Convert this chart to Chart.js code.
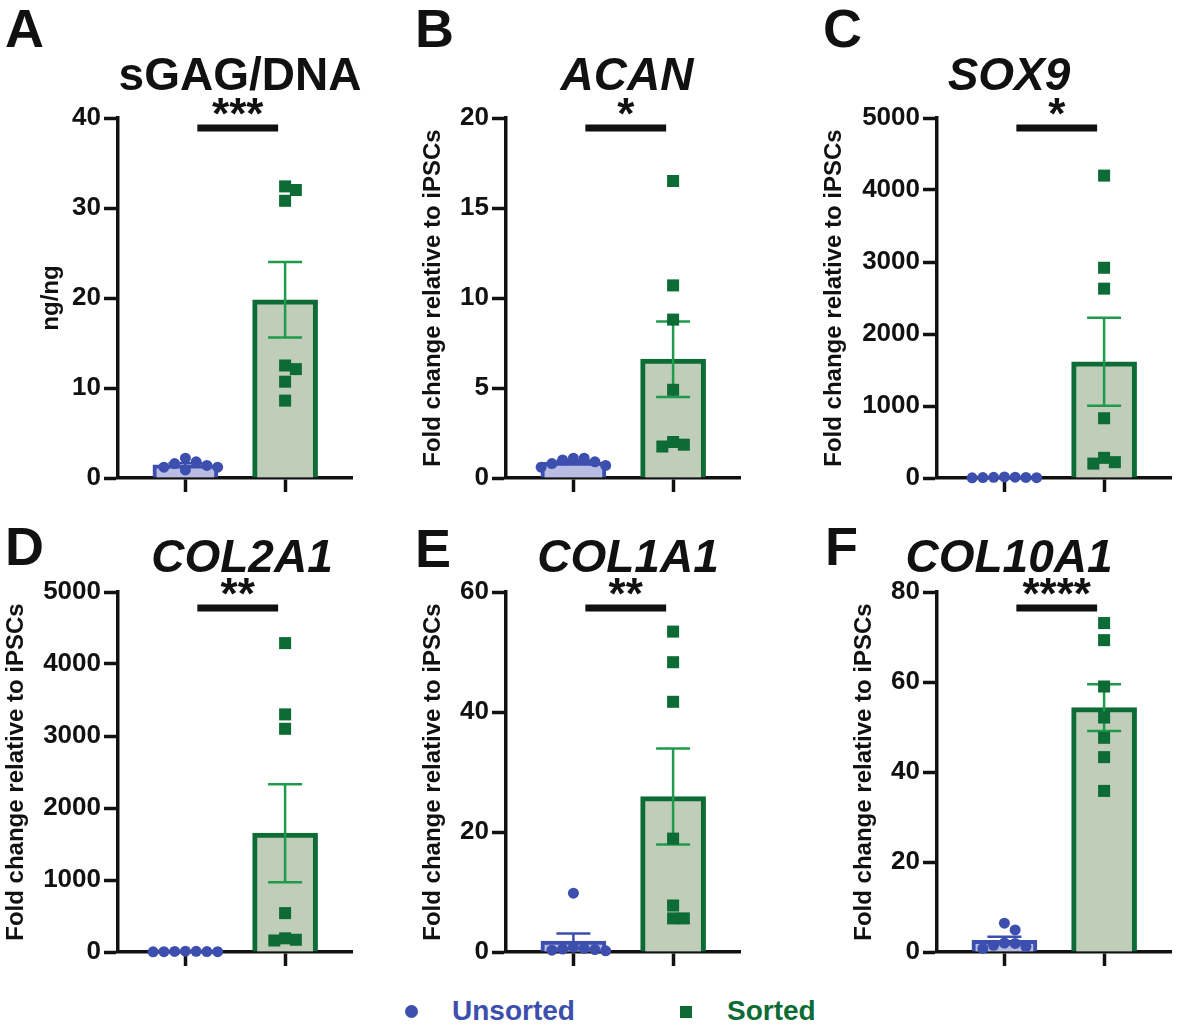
<!DOCTYPE html>
<html>
<head>
<meta charset="utf-8">
<title>Unsorted vs Sorted</title>
<script src="https://cdn.jsdelivr.net/npm/chart.js@4/dist/chart.umd.min.js"></script>
<style>
  html, body { margin: 0; padding: 0; background: #fff; overflow: hidden; }
  body { width: 1181px; height: 1026px; position: relative; font-family: 'Liberation Sans', Arial, Helvetica, sans-serif; }
  .panel { position: absolute; }
  .txt { position: absolute; font-weight: bold; line-height: 1; white-space: nowrap; color: #111; }
  .letter { font-size: 54px; }
  .title { font-size: 46px; width: 400px; text-align: center; }
  .title.gene { font-style: italic; }
  .legend { font-size: 28px; }
  .dot { position: absolute; width: 13px; height: 13px; border-radius: 50%; background: #3c4fae; }
  .sq { position: absolute; width: 12px; height: 12px; background: #0d6b35; }
</style>
</head>
<body>
<div class="panel"><canvas id="chartA" width="10" height="10"></canvas></div>
<div class="panel"><canvas id="chartB" width="10" height="10"></canvas></div>
<div class="panel"><canvas id="chartC" width="10" height="10"></canvas></div>
<div class="panel"><canvas id="chartD" width="10" height="10"></canvas></div>
<div class="panel"><canvas id="chartE" width="10" height="10"></canvas></div>
<div class="panel"><canvas id="chartF" width="10" height="10"></canvas></div>
<div id="labels"></div>
<script>
(function () {
  'use strict';

  var FONT = "'Liberation Sans', Arial, Helvetica, sans-serif";

  /* ── Data ── */
  var panelLetters = ['A', 'B', 'C', 'D', 'E', 'F'];
  var panelTitles = ['sGAG/DNA', 'ACAN', 'SOX9', 'COL2A1', 'COL1A1', 'COL10A1'];
  var yTitles = ['ng/ng', 'Fold change relative to iPSCs', 'Fold change relative to iPSCs',
    'Fold change relative to iPSCs', 'Fold change relative to iPSCs', 'Fold change relative to iPSCs'];
  var yMaxes = [40, 20, 5000, 5000, 60, 80];
  var yStepSizes = [10, 5, 1000, 1000, 20, 20];
  var sigStars = ['***', '*', '*', '**', '**', '****'];
  var groups = ['Unsorted', 'Sorted'];

  var sgagUnsorted = [2.2, 1.8, 1.6, 1.4, 1.2, 1.2, 0.9];
  var sgagSorted = [32.4, 32.0, 30.8, 12.5, 12.1, 10.7, 8.6];
  var acanUnsorted = [1.1, 1.1, 1.0, 0.9, 0.8, 0.7, 0.6];
  var acanSorted = [16.5, 10.7, 8.8, 4.9, 2.0, 1.85, 1.75];
  var sox9Unsorted = [15, 12, 10, 8, 6, 5, 3];
  var sox9Sorted = [4200, 2920, 2630, 830, 280, 220, 200];
  var col2a1Unsorted = [12, 10, 8, 6, 5, 4, 3];
  var col2a1Sorted = [4290, 3300, 3100, 540, 190, 170, 160];
  var col1a1Unsorted = [9.8, 0.8, 0.6, 0.5, 0.4, 0.3, 0.2];
  var col1a1Sorted = [53.4, 48.3, 41.7, 18.9, 7.75, 5.6, 5.6];
  var col10a1Unsorted = [6.4, 4.9, 2.0, 1.9, 1.5, 1.2, 0.8];
  var col10a1Sorted = [73.1, 69.3, 59.0, 52.1, 47.6, 43.3, 35.8];

  var meanUnsorted = [1.47, 0.89, 8, 7, 1.8, 2.6];
  var meanSorted = [19.8, 6.6, 1615, 1650, 25.9, 54.3];
  var semUnsorted = [0.17, 0.07, 2, 1.5, 1.3, 0.8];
  var semSorted = [4.2, 2.1, 610, 680, 8.0, 5.2];

  var unsortedSets = [sgagUnsorted, acanUnsorted, sox9Unsorted, col2a1Unsorted, col1a1Unsorted, col10a1Unsorted];
  var sortedSets = [sgagSorted, acanSorted, sox9Sorted, col2a1Sorted, col1a1Sorted, col10a1Sorted];

  /* ── Colours ── */
  var BLUE = '#3c4fae';
  var BLUE_FILL = '#b9bde3';
  var GREEN = '#0d6b35';
  var GREEN_FILL = '#bfcdb9';
  var GREEN_ERR = '#1f9a4c';

  /* ── Layout ── */
  var axisLeft = [118, 506, 937, 118, 506, 937];
  var plotTop = [118, 118, 118, 592, 592, 592];
  var yAxisWidth = [81, 87, 117, 116, 87, 87];
  var titleCenter = [240, 627, 1009, 242, 628, 1009];
  var titleBase = [90, 90, 90, 572, 572, 572];
  var letterLeft = [5, 415, 823, 5, 415, 825];
  var letterBase = [47, 47, 47, 565, 567, 565];
  var sigOffset = [10, 10, 10, 16, 16, 16];
  var PLOT_W = 240, PLOT_H = 360, PAD_TOP = 40, PAD_RIGHT = 3, X_H = 30;
  var CAT_PX = 102;

  /* simple beeswarm: spread points that would overlap at the same height */
  function swarm(values, yMax) {
    var pxPerUnit = PLOT_H / yMax;
    var dia = 11;
    var order = values.map(function (v, i) { return i; })
      .sort(function (a, b) { return values[b] - values[a]; });
    var placed = [];
    var offsets = new Array(values.length).fill(0);
    var steps = [0, 1, -1, 2, -2, 3, -3, 4, -4, 5, -5];
    order.forEach(function (idx) {
      var py = values[idx] * pxPerUnit;
      for (var s = 0; s < steps.length; s++) {
        var px = steps[s] * dia;
        var hit = placed.some(function (p) { return Math.hypot(p.x - px, p.y - py) < dia - 0.5; });
        if (!hit) {
          placed.push({ x: px, y: py });
          offsets[idx] = px / CAT_PX;
          break;
        }
      }
    });
    return offsets;
  }

  var errorBarPlugin = {
    id: 'errorBars',
    afterDatasetDraw: function (chart, args, opts) {
      if (args.index !== 0) return;
      var ctx = chart.ctx;
      var y = chart.scales.y;
      args.meta.data.forEach(function (bar, i) {
        var m = opts.means[i], e = opts.sems[i];
        var top = y.getPixelForValue(m + e);
        var bot = y.getPixelForValue(Math.max(0, m - e));
        ctx.save();
        ctx.strokeStyle = opts.colors[i];
        ctx.lineWidth = 2.5;
        ctx.beginPath();
        ctx.moveTo(bar.x, top); ctx.lineTo(bar.x, bot);
        ctx.moveTo(bar.x - 17, top); ctx.lineTo(bar.x + 17, top);
        ctx.moveTo(bar.x - 17, bot); ctx.lineTo(bar.x + 17, bot);
        ctx.stroke();
        ctx.restore();
      });
    }
  };

  var sigPlugin = {
    id: 'sigBar',
    afterDraw: function (chart, args, opts) {
      var ctx = chart.ctx;
      var x = chart.scales.x;
      var yL = chart.chartArea.top + opts.offset;
      var x0 = x.getPixelForValue(0.12), x1 = x.getPixelForValue(0.93);
      ctx.save();
      ctx.fillStyle = '#111';
      ctx.fillRect(x0, yL - 3.5, x1 - x0, 7);
      ctx.font = 'bold 44px ' + FONT;
      ctx.textAlign = 'center';
      ctx.textBaseline = 'alphabetic';
      ctx.fillText(opts.stars, (x0 + x1) / 2, yL + 1);
      ctx.restore();
    }
  };

  function buildPanel(i) {
    var canvas = document.getElementById('chart' + panelLetters[i]);
    var wrap = canvas.parentNode;
    var w = yAxisWidth[i] + PLOT_W + PAD_RIGHT;
    var h = PAD_TOP + PLOT_H + X_H;
    wrap.style.left = (axisLeft[i] - yAxisWidth[i]) + 'px';
    wrap.style.top = (plotTop[i] - PAD_TOP) + 'px';
    canvas.width = w;
    canvas.height = h;

    var uVals = unsortedSets[i], sVals = sortedSets[i];
    var uOff = swarm(uVals, yMaxes[i]);
    var sOff = swarm(sVals, yMaxes[i]);

    new Chart(canvas, {
      type: 'bar',
      data: {
        datasets: [
          {
            label: 'mean',
            data: [{ x: 0, y: meanUnsorted[i] }, { x: 1, y: meanSorted[i] }],
            backgroundColor: [BLUE_FILL, GREEN_FILL],
            borderColor: [BLUE, GREEN],
            borderWidth: [4, 5],
            borderSkipped: 'bottom',
            barThickness: 65,
            order: 3
          },
          {
            type: 'scatter',
            label: groups[0],
            data: uVals.map(function (v, k) { return { x: uOff[k], y: v }; }),
            pointStyle: 'circle',
            pointRadius: 5.5,
            pointBackgroundColor: BLUE,
            pointBorderWidth: 0,
            clip: false,
            order: 1
          },
          {
            type: 'scatter',
            label: groups[1],
            data: sVals.map(function (v, k) { return { x: 1 + sOff[k], y: v }; }),
            pointStyle: 'rect',
            pointRadius: 8.5,
            pointBackgroundColor: GREEN,
            pointBorderWidth: 0,
            clip: false,
            order: 1
          }
        ]
      },
      options: {
        responsive: false,
        animation: false,
        devicePixelRatio: 1,
        layout: { padding: { top: PAD_TOP, right: PAD_RIGHT, left: 0, bottom: 0 } },
        plugins: {
          legend: { display: false },
          tooltip: { enabled: false },
          errorBars: {
            means: [meanUnsorted[i], meanSorted[i]],
            sems: [semUnsorted[i], semSorted[i]],
            colors: [BLUE, GREEN_ERR]
          },
          sigBar: { stars: sigStars[i], offset: sigOffset[i] }
        },
        scales: {
          x: {
            type: 'linear',
            min: -0.676,
            max: 1.676,
            offset: false,
            afterBuildTicks: function (s) { s.ticks = [{ value: 0 }, { value: 1 }]; },
            ticks: { display: false },
            grid: { drawOnChartArea: false, drawTicks: true, tickLength: 14, tickWidth: 3.5, tickColor: '#111', offset: false },
            border: { color: '#111', width: 3.5 },
            afterFit: function (s) { s.height = X_H; }
          },
          y: {
            min: 0,
            max: yMaxes[i],
            ticks: {
              stepSize: yStepSizes[i],
              color: '#111',
              padding: 3,
              font: { size: 26, weight: 'bold' },
              callback: function (v) { return String(v); }
            },
            grid: { drawOnChartArea: false, drawTicks: true, tickLength: 14, tickWidth: 3.5, tickColor: '#111' },
            border: { color: '#111', width: 3.5 },
            title: {
              display: true,
              text: yTitles[i],
              color: '#111',
              padding: 0,
              font: { size: 24, weight: 'bold' }
            },
            afterFit: function (s) { s.width = yAxisWidth[i]; }
          }
        }
      },
      plugins: [errorBarPlugin, sigPlugin]
    });
  }

  function addText(cls, text, left, baseline, size, color) {
    var d = document.createElement('div');
    d.className = 'txt ' + cls;
    d.textContent = text;
    d.style.left = left + 'px';
    d.style.top = (baseline - 0.8465 * size) + 'px';
    if (color) d.style.color = color;
    document.getElementById('labels').appendChild(d);
    return d;
  }

  function init() {
    Chart.defaults.font.family = FONT;
    for (var i = 0; i < 6; i++) {
      buildPanel(i);
      addText('letter', panelLetters[i], letterLeft[i], letterBase[i], 54);
      addText('title' + (i > 0 ? ' gene' : ''), panelTitles[i], titleCenter[i] - 200, titleBase[i], 46);
    }
    /* legend */
    var labels = document.getElementById('labels');
    var dot = document.createElement('div');
    dot.className = 'dot';
    dot.style.left = '405px'; dot.style.top = '1005px';
    labels.appendChild(dot);
    var sq = document.createElement('div');
    sq.className = 'sq';
    sq.style.left = '680px'; sq.style.top = '1006px';
    labels.appendChild(sq);
    addText('legend', groups[0], 452, 1021, 28, BLUE);
    addText('legend', groups[1], 727, 1021, 28, GREEN);
  }

  init();
})();
</script>
</body>
</html>
